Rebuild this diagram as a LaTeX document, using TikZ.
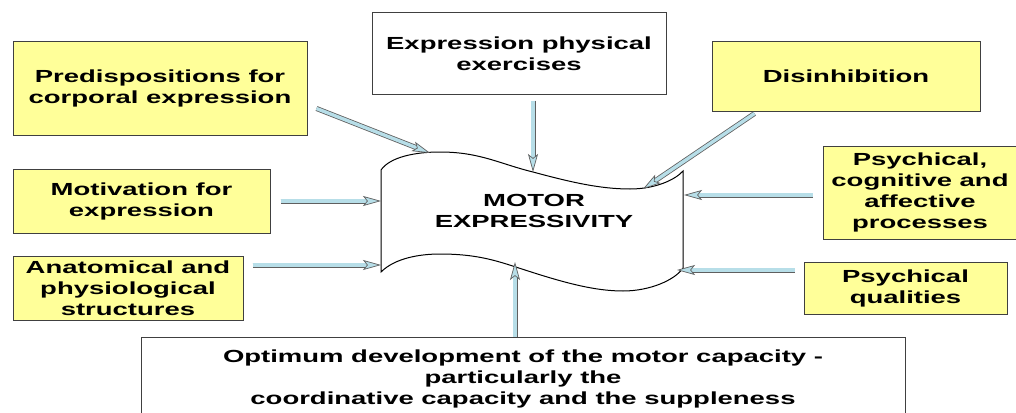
\documentclass[tikz,border=0pt]{standalone}
\usepackage{fontspec}
\newfontfamily\diagfont{Liberation Sans}[FakeStretch=1.57]
\usetikzlibrary{arrows.meta}
\definecolor{boxyellow}{HTML}{FFFF99}
\definecolor{arrowfill}{HTML}{B7DEE8}
\definecolor{arrowline}{HTML}{5F5F5F}

\begin{document}
\begin{tikzpicture}[x=1pt, y=-1pt, >=Stealth]
\tikzset{
  factor/.style = {rectangle, draw=black!75, line width=1pt, fill=boxyellow, align=center, inner sep=2pt,
                   font=\diagfont\bfseries\fontsize{17.5}{21}\selectfont},
  plain/.style  = {factor, fill=white},
  feed/.style   = {draw=arrowline, line width=0.8pt, double=arrowfill, double distance=3.4pt,
                   -{Stealth[length=18pt, width=10pt, inset=4pt, fill=arrowfill, line width=0.7pt]}}
}
\clip (0,0) rectangle (1016,412);

% Factor boxes
\node[factor, minimum width=294pt, minimum height=93pt] (pre) at (160,88.5) {Predispositions for\\corporal expression};
\node[plain,  minimum width=294pt, minimum height=81pt] (exe) at (519,53.5) {Expression physical\\exercises};
\node[factor, minimum width=268pt, minimum height=69pt] (dis) at (846,76.5) {Disinhibition};
\node[factor, minimum width=257pt, minimum height=64pt] (mot) at (141.5,201) {Motivation for\\expression};
\node[factor, minimum width=194pt, minimum height=93pt] (psy) at (920,192.5) {Psychical,\\cognitive and\\affective\\processes};
\node[factor, minimum width=230pt, minimum height=64pt] (ana) at (128,288) {Anatomical and\\physiological\\structures};
\node[factor, minimum width=203pt, minimum height=52pt] (qua) at (905.5,288) {Psychical\\qualities};
\node[plain,  minimum width=764pt, minimum height=84pt] (opt) at (523,379) {Optimum development of the motor capacity -\\particularly the\\coordinative capacity and the suppleness};

% Motor expressivity (tape)
\draw[line width=1pt, fill=white] (381,170) .. controls (390,157) and (415,152) .. (440,152)
  .. controls (480,152) and (500,164) .. (533,172) .. controls (570,182) and (600,189) .. (630,189)
  .. controls (655,189) and (675,180) .. (683,171) -- (683,268)
  .. controls (675,280) and (650,291) .. (623,291) .. controls (595,291) and (565,283) .. (525,270)
  .. controls (500,262) and (480,254) .. (440,254) .. controls (420,254) and (395,258) .. (381,272) -- cycle;
\node[font=\diagfont\bfseries\fontsize{17.5}{21}\selectfont, align=center, inner sep=0pt] (motor) at (534,211) {MOTOR\\EXPRESSIVITY};

\coordinate (inPre) at (430,153);
\coordinate (inExe) at (533,172);
\coordinate (inDis) at (643,189);
\coordinate (inMot) at (381,201);
\coordinate (inAna) at (381,265);
\coordinate (inPsy) at (684,195);
\coordinate (inQua) at (677,270);
\coordinate (inOpt) at (515,262);

% Arrows
\draw[feed] ([shift={(9,20)}]pre.east) -- (inPre);
\draw[feed] ([shift={(14,6)}]exe.south) -- (inExe);
\draw[feed] ([shift={(43,2)}]dis.south west) -- (inDis);
\draw[feed] ([xshift=10pt]mot.east) -- (inMot);
\draw[feed] ([shift={(9,-23)}]ana.east) -- (inAna);
\draw[feed] ([shift={(-10,2.5)}]psy.west) -- (inPsy);
\draw[feed] ([shift={(-9,-18)}]qua.west) -- (inQua);
\draw[feed] ([xshift=-8pt]opt.north) -- (inOpt);

\end{tikzpicture}
\end{document}
